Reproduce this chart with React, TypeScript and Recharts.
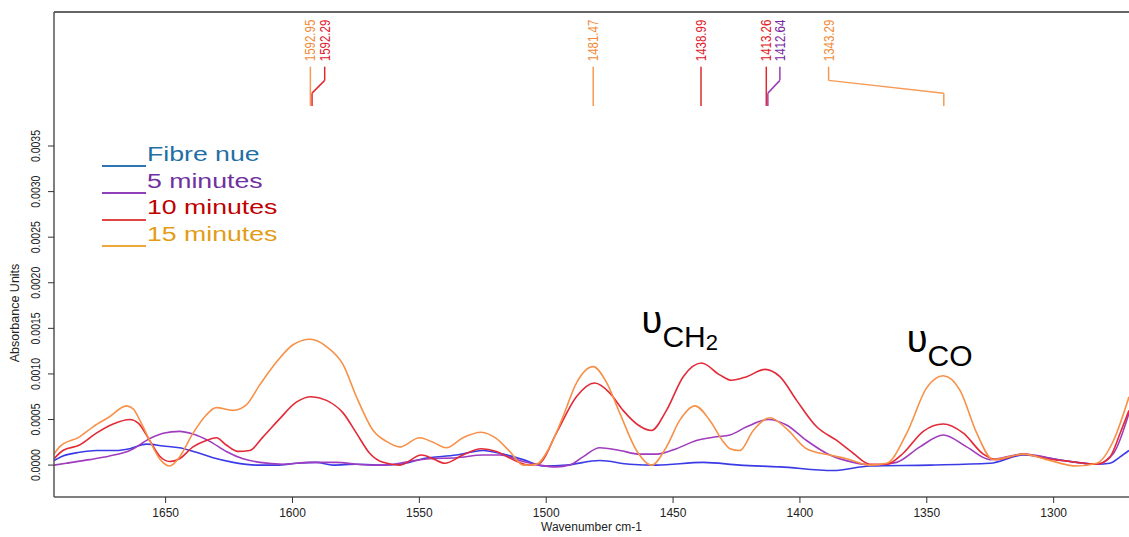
import { Legend, Line, LineChart, ReferenceDot, ReferenceLine, XAxis, YAxis } from "recharts";

const FONT = "'Liberation Sans', Arial, sans-serif";

const X_MIN = 1270.3;
const X_MAX = 1694;
const Y_MIN = -0.00035;
const Y_MAX = 0.00497;
const X_TICKS = [1650, 1600, 1550, 1500, 1450, 1400, 1350, 1300];
const Y_TICKS = [0, 0.0005, 0.001, 0.0015, 0.002, 0.0025, 0.003, 0.0035];

const SERIES_NAMES = ["Fibre nue", "5 minutes", "10 minutes", "15 minutes"];
const SERIES_COLORS = ["#3b3be6", "#a03cbe", "#e22a38", "#f79149"];
const LEGEND_TEXT_COLORS = ["#1f6fa5", "#7030a0", "#c00000", "#e39c16"];
const LEGEND_LINE_COLORS = ["#2e75b6", "#9040b8", "#e04646", "#efa93a"];

// spectra, wavenumber (cm-1) / absorbance
const WAVE_FIBRE = [1694, 1690.5, 1683.9, 1677.3, 1669.5, 1664.1, 1657.6, 1651, 1644.5, 1637.9, 1631.3, 1623.4, 1614.2, 1606.3, 1598.5, 1590.6, 1584, 1574.8, 1566.9, 1557.7, 1548.6, 1535.4, 1524.9, 1517, 1509.1, 1501.2, 1492, 1478.9, 1467.1, 1456.5, 1438.1, 1423.7, 1407.9, 1386.9, 1372.4, 1348.7, 1325.1, 1311.9, 1296.2, 1283, 1277.8, 1273.8, 1270.3];
const ABS_FIBRE = [0.00005, 0.0001, 0.00014, 0.00016, 0.00016, 0.00018, 0.00023, 0.00021, 0.00019, 0.00014, 0.00008, 0.00003, 0, 0, 0.00002, 0.00003, 0, 0.00001, 0, 0.00001, 0.00007, 0.00011, 0.00016, 0.00012, 0.00006, -0.00001, 0, 0.00005, 0.00001, 0, 0.00003, 0, -0.00002, -0.00006, -0.00001, 0, 0.00002, 0.00011, 0.00005, 0.00001, 0.00002, 0.00009, 0.00016];

const WAVE_5 = [1694, 1689.2, 1680, 1672.1, 1664.1, 1656.3, 1651, 1644.5, 1639.2, 1632.6, 1626.1, 1619.5, 1612.9, 1603.7, 1593.2, 1582.7, 1574.8, 1564.3, 1553.8, 1546.1, 1535.4, 1524.9, 1518.3, 1509.1, 1502.6, 1496, 1490.7, 1485.5, 1478.9, 1471, 1463.1, 1456.5, 1448.7, 1440.8, 1432.9, 1427.6, 1421, 1412.5, 1405.3, 1397.4, 1388.2, 1379, 1371.1, 1361.9, 1352.7, 1343.5, 1334.3, 1325.1, 1311.9, 1296.2, 1283, 1276.4, 1270.3];
const ABS_5 = [0, 0.00002, 0.00006, 0.0001, 0.00016, 0.00029, 0.00035, 0.00037, 0.00034, 0.00026, 0.00015, 0.00007, 0.00003, 0.00001, 0.00003, 0.00003, 0.00001, 0, 0.00004, 0.00007, 0.00008, 0.00011, 0.00011, 0.00004, 0, -0.00002, 0, 0.00009, 0.00019, 0.00016, 0.00012, 0.00012, 0.00018, 0.00027, 0.00031, 0.00033, 0.00042, 0.0005, 0.00044, 0.00027, 0.00011, 0.00003, 0, 0.00003, 0.0002, 0.00033, 0.0002, 0.00006, 0.00012, 0.00005, 0.00001, 0.00013, 0.00057];

const WAVE_10 = [1694, 1690.5, 1683.9, 1677.3, 1670.7, 1664.1, 1660.8, 1656.3, 1652.4, 1648.4, 1644.5, 1639.2, 1634, 1630, 1626.1, 1621.5, 1616.9, 1611.6, 1605, 1598.5, 1592.6, 1586.6, 1580, 1574.8, 1569.6, 1564.3, 1557.7, 1549.2, 1544.6, 1540, 1532.8, 1525.6, 1519.6, 1513.1, 1506.5, 1502.6, 1496, 1488.1, 1480.9, 1474.9, 1469.7, 1463.8, 1458.5, 1452.6, 1446, 1438.8, 1431.6, 1427, 1421, 1413.8, 1407.9, 1401.3, 1393.4, 1385.5, 1379, 1372.4, 1365.8, 1359.3, 1351.4, 1343.5, 1335.6, 1327.7, 1322.5, 1311.9, 1302.7, 1293.5, 1283, 1277.8, 1273.8, 1270.3];
const ABS_10 = [0.00007, 0.00016, 0.00022, 0.00035, 0.00045, 0.0005, 0.00046, 0.00027, 0.0001, 0.00004, 0.00007, 0.0002, 0.00027, 0.0003, 0.00022, 0.00015, 0.00016, 0.00031, 0.00051, 0.00069, 0.00075, 0.00071, 0.00057, 0.00035, 0.00013, 0.00003, 0, 0.00011, 0.00007, 0.00002, 0.00011, 0.00018, 0.00015, 0.00006, 0, 0.00002, 0.00035, 0.00075, 0.0009, 0.00079, 0.0006, 0.00044, 0.00038, 0.0006, 0.00097, 0.00112, 0.00099, 0.00093, 0.00097, 0.00105, 0.00097, 0.00071, 0.00042, 0.00027, 0.00013, 0.00001, 0.00001, 0.00013, 0.00037, 0.00045, 0.00035, 0.00012, 0.00006, 0.00012, 0.00007, 0.00004, 0.00001, 0.00009, 0.00035, 0.0006];

const WAVE_15 = [1694, 1691.8, 1683.9, 1678.6, 1672.1, 1665.5, 1662.9, 1659.6, 1656.3, 1652.4, 1648.4, 1644.5, 1639.2, 1634, 1630, 1623.4, 1618.2, 1612.9, 1606.3, 1599.8, 1593, 1586.6, 1580, 1574.8, 1568.2, 1563, 1557.7, 1549.9, 1544.6, 1539.4, 1532.8, 1525.6, 1519.6, 1514.4, 1509.1, 1503.9, 1498.6, 1493.4, 1488.1, 1481.5, 1476.3, 1471, 1464.4, 1458.5, 1452.6, 1447.4, 1441.4, 1435.5, 1430.3, 1427.6, 1423.7, 1418.4, 1411.8, 1405.3, 1397.4, 1388.2, 1381.6, 1372.4, 1365.8, 1357.9, 1350, 1343.5, 1336.9, 1330.3, 1323.8, 1311.9, 1302.7, 1290.9, 1283, 1276.4, 1270.3];
const ABS_15 = [0.00012, 0.0002, 0.00031, 0.00042, 0.00053, 0.00065, 0.00062, 0.00046, 0.00027, 0.00007, -0.00001, 0.00009, 0.00035, 0.00055, 0.00063, 0.0006, 0.00066, 0.00088, 0.00113, 0.00132, 0.00138, 0.0013, 0.0011, 0.00075, 0.00038, 0.00026, 0.0002, 0.0003, 0.00025, 0.00019, 0.0003, 0.00036, 0.00029, 0.00015, 0, 0.00001, 0.0002, 0.00053, 0.0009, 0.00108, 0.00091, 0.00057, 0.00016, 0, 0.0002, 0.00049, 0.00065, 0.00049, 0.00026, 0.00018, 0.00016, 0.00038, 0.00052, 0.0004, 0.00018, 0.00011, 0.00007, 0, 0.00002, 0.00035, 0.00085, 0.00098, 0.00082, 0.00035, 0.00006, 0.00012, 0.00006, -0.00001, 0.00002, 0.00027, 0.00075];

// peak picks shown above the spectra
const PEAK_LABELS = ["1592.95", "1592.29", "1481.47", "1438.99", "1413.26", "1412.64", "1343.29"];
const PEAK_WAVES = [1592.95, 1592.29, 1481.47, 1438.99, 1413.26, 1412.64, 1343.29];
const PEAK_LABEL_WAVES = [1592.95, 1587.3, 1481.47, 1438.99, 1413.26, 1407.9, 1388.7];
const PEAK_SERIES = [3, 2, 3, 2, 2, 1, 3];
const PEAK_TEXT_COLORS = ["#3b3be6", "#7a2aa0", "#e0202a", "#f08a3a"];
const PEAK_LINE_COLORS = ["#3b3be6", "#9a40b0", "#e02a30", "#f59a55"];
const LEADER_Y = [0.00437, 0.00422, 0.00408, 0.00394];
const PEAK_TEXT_Y = 0.00443;

// band assignments
const MODE_SUBS = ["CH", "CO"];
const MODE_SUB_NUMS = ["2", ""];
const MODE_WAVES = [1462.4, 1357.9];
const MODE_ABS = [0.00145, 0.00124];

// the source picture is a bit stretched sideways, so its text is wider than normal
const STRETCH = 1.3;

const SERIES = [
  { w: WAVE_FIBRE, a: ABS_FIBRE },
  { w: WAVE_5, a: ABS_5 },
  { w: WAVE_10, a: ABS_10 },
  { w: WAVE_15, a: ABS_15 },
].map((s) => s.w.map((w, i) => ({ w, a: s.a[i] })));

function YTick({ x, y, payload }: any) {
  return (
    <text
      x={0}
      y={0}
      transform={`translate(${x - 8}, ${y}) rotate(-90) scale(1, ${STRETCH})`}
      textAnchor="middle"
      fontSize={10.5}
      fontFamily={FONT}
      fill="#222"
    >
      {Number(payload.value).toFixed(4)}
    </text>
  );
}

function YTitle() {
  return (
    <text x={19} y={313} transform="rotate(-90, 19, 313)" textAnchor="middle" fontSize={12.5} fontFamily={FONT} fill="#222">
      Absorbance Units
    </text>
  );
}

function renderLegend(props: any) {
  const payload = [...(props.payload || [])].sort(
    (a: any, b: any) => SERIES_NAMES.indexOf(a.value) - SERIES_NAMES.indexOf(b.value)
  );
  return (
    <div style={{ fontFamily: FONT }}>
      {payload.map((entry: any) => {
        const i = SERIES_NAMES.indexOf(entry.value);
        return (
          <div
            key={entry.value}
            style={{
              position: "relative",
              height: 26.7,
              paddingLeft: 45,
              fontSize: 20.5,
              lineHeight: "26.7px",
              color: LEGEND_TEXT_COLORS[i],
              whiteSpace: "nowrap",
            }}
          >
            <span
              style={{ position: "absolute", left: 0, top: 24.3, width: 44, height: 2, background: LEGEND_LINE_COLORS[i] }}
            />
            <span style={{ display: "inline-block", transform: `scaleX(${STRETCH})`, transformOrigin: "left center" }}>
              {entry.value}
            </span>
          </div>
        );
      })}
    </div>
  );
}

function leaderSegments(i: number) {
  const peak = PEAK_WAVES[i];
  const lab = PEAK_LABEL_WAVES[i];
  if (peak === lab) {
    return [[{ x: peak, y: LEADER_Y[0] }, { x: peak, y: LEADER_Y[3] }]];
  }
  return [
    [{ x: lab, y: LEADER_Y[0] }, { x: lab, y: LEADER_Y[1] }],
    [{ x: lab, y: LEADER_Y[1] }, { x: peak, y: LEADER_Y[2] }],
    [{ x: peak, y: LEADER_Y[2] }, { x: peak, y: LEADER_Y[3] }],
  ];
}

export default function App() {
  return (
    <div style={{ position: "fixed", left: 0, top: 0, width: 1129, height: 537, background: "#fff" }}>
      <LineChart width={1129} height={537} margin={{ top: 12, right: 0, bottom: 0, left: 0 }}>
        <XAxis
          dataKey="w"
          type="number"
          domain={[X_MIN, X_MAX]}
          reversed
          allowDataOverflow
          ticks={X_TICKS}
          interval={0}
          height={40}
          tickSize={6}
          tickMargin={5}
          axisLine={{ stroke: "#555", strokeWidth: 1.5 }}
          tickLine={{ stroke: "#333" }}
          tick={{ fontSize: 12, fill: "#222", fontFamily: FONT }}
          label={{ value: "Wavenumber cm-1", position: "insideBottom", offset: 6, fontSize: 12, fill: "#222", fontFamily: FONT }}
        />
        <YAxis
          type="number"
          domain={[Y_MIN, Y_MAX]}
          allowDataOverflow
          ticks={Y_TICKS}
          interval={0}
          width={54}
          tickSize={6}
          tickMargin={0}
          axisLine={{ stroke: "#555", strokeWidth: 1.5 }}
          tickLine={{ stroke: "#333" }}
          tick={<YTick />}
          label={{ content: () => <YTitle /> }}
        />
        <ReferenceLine y={Y_MAX} stroke="#666" strokeWidth={2} />

        {SERIES.map((data, i) => (
          <Line
            key={SERIES_NAMES[i]}
            data={data}
            dataKey="a"
            name={SERIES_NAMES[i]}
            type="monotone"
            stroke={SERIES_COLORS[i]}
            strokeWidth={1.6}
            dot={false}
            activeDot={false}
            isAnimationActive={false}
          />
        ))}

        {PEAK_WAVES.flatMap((_, i) =>
          leaderSegments(i).map((seg, j) => (
            <ReferenceLine
              key={`lead-${i}-${j}`}
              segment={seg}
              stroke={PEAK_LINE_COLORS[PEAK_SERIES[i]]}
              strokeWidth={1.5}
            />
          ))
        )}
        {PEAK_LABELS.map((label, i) => (
          <ReferenceDot
            key={`peak-${label}`}
            x={PEAK_LABEL_WAVES[i]}
            y={PEAK_TEXT_Y}
            r={1}
            shape={(p: any) => (
              <text
                x={0}
                y={0}
                transform={`translate(${p.cx}, ${p.cy}) rotate(-90) scale(1, ${STRETCH})`}
                textAnchor="start"
                dominantBaseline="central"
                fontSize={11.5}
                fontFamily={FONT}
                fill={PEAK_TEXT_COLORS[PEAK_SERIES[i]]}
              >
                {label}
              </text>
            )}
          />
        ))}

        {MODE_SUBS.map((sub, i) => (
          <ReferenceDot
            key={`mode-${sub}`}
            x={MODE_WAVES[i]}
            y={MODE_ABS[i]}
            r={1}
            shape={(p: any) => (
              <text x={p.cx} y={p.cy} fontFamily={FONT} fill="#000">
                <tspan fontSize={38}>υ</tspan>
                <tspan fontSize={30} dy={14}>{sub}</tspan>
                {MODE_SUB_NUMS[i] ? <tspan fontSize={22} dy={3}>{MODE_SUB_NUMS[i]}</tspan> : null}
              </text>
            )}
          />
        ))}

        <Legend
          layout="horizontal"
          verticalAlign="middle"
          align="center"
          content={renderLegend}
          wrapperStyle={{ left: 102, top: 141, width: 220 }}
        />
      </LineChart>
    </div>
  );
}
